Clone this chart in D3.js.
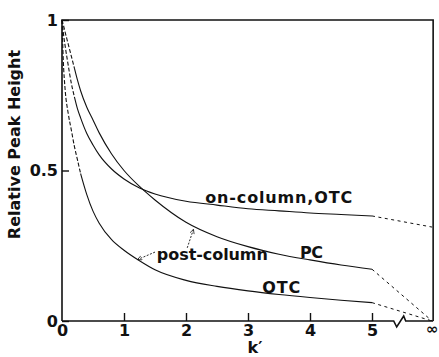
<!DOCTYPE html>
<html><head><meta charset="utf-8">
<script src="https://cdn.jsdelivr.net/npm/d3@7"></script>
<style>html,body{margin:0;padding:0;background:#fff}svg{display:block}</style>
</head><body>
<svg id="c" width="439" height="357"></svg>
<script>
// ---- data ----
const kGrid = [0,0.02,0.05,0.1,0.15,0.2,0.25,0.3,0.4,0.5,0.6,0.8,1.0,1.25,1.5,2,2.5,3,3.5,4,4.5,5];
const onColumnOTC  = [1,0.96,0.915,0.85,0.79,0.745,0.705,0.675,0.623,0.585,0.552,0.505,0.472,0.442,0.422,0.398,0.385,0.373,0.366,0.359,0.354,0.349];
const postColumnPC = [1,0.985,0.96,0.92,0.88,0.84,0.80,0.765,0.71,0.668,0.625,0.555,0.5,0.447,0.402,0.328,0.28,0.247,0.222,0.203,0.186,0.172];
const postColumnOTC= [1,0.87,0.77,0.69,0.635,0.58,0.535,0.49,0.42,0.365,0.325,0.27,0.235,0.2,0.17,0.135,0.115,0.1,0.088,0.078,0.069,0.061];
const infinityValues = [0.312, 0, 0];           // value at k' = infinity
const dashedBelowK   = [0.2, 0.2, 0.3];         // early part drawn dashed
const seriesLabels   = ["on-column,OTC", "PC", "OTC"];
const xTickValues = [0,1,2,3,4,5];
const xTickLabels = ["0","1","2","3","4","5"];
const yTickValues = [0,0.5,1];
const yTickLabels = ["0","0.5","1"];
const infinityLabel = "\u221E";
const xTitle = "k\u2032";
const yTitle = "Relative Peak Height";
const annotationText = "post-column";

// ---- layout ----
const svg = d3.select("#c");
const FONT = "'DejaVu Sans', sans-serif";
const x = d3.scaleLinear().domain([0,5]).range([62,372]);
const y = d3.scaleLinear().domain([0,1]).range([321,20]);
const kInfSlot = 5.97, kBreak = 5.35;
const xk = k => isFinite(k) ? x(k) : x(kInfSlot);
const ink = "#111";

const series = [onColumnOTC, postColumnPC, postColumnOTC];
const lineGen = d3.line().x(d => xk(d[0])).y(d => y(d[1])).curve(d3.curveMonotoneX);

series.forEach((vals, i) => {
  const pts = kGrid.map((k, j) => [k, vals[j]]);
  const dashed = pts.filter(p => p[0] <= dashedBelowK[i] + 1e-9);
  const solid  = pts.filter(p => p[0] >= dashedBelowK[i] - 1e-9);
  svg.append("path").attr("d", lineGen(dashed)).attr("fill","none")
    .attr("stroke", ink).attr("stroke-width", 1.1).attr("stroke-dasharray","4,2");
  svg.append("path").attr("d", lineGen(solid)).attr("fill","none")
    .attr("stroke", ink).attr("stroke-width", 1.1);
  // extrapolation to infinity
  const last = pts[pts.length-1];
  svg.append("path").attr("d", d3.line().x(d=>xk(d[0])).y(d=>y(d[1]))([last, [Infinity, infinityValues[i]]]))
    .attr("fill","none").attr("stroke", ink).attr("stroke-width", 1).attr("stroke-dasharray","3,3.5");
});

// ---- frame ----
const y0 = y(0), xr = x(kInfSlot) + 1, xb = x(kBreak);
svg.append("path")
  .attr("d", d3.line()([[x(0), y0],[xb, y0],[xb+3, y0+6],[xb+10, y0-5],[xb+12, y0],[xr, y0]]))
  .attr("fill","none").attr("stroke", ink).attr("stroke-width", 1.6);
svg.append("path")
  .attr("d", d3.line()([[x(0), y0],[x(0), y(1)],[xr, y(1)],[xr, y0]]))
  .attr("fill","none").attr("stroke", ink).attr("stroke-width", 1.6);

// ---- axes ----
const xAxis = d3.axisBottom(x).tickValues(xTickValues)
  .tickFormat((d,i) => xTickLabels[i]).tickSize(-8).tickPadding(4);
const gx = svg.append("g").attr("transform", `translate(0,${y0})`).call(xAxis);
gx.select(".domain").remove();
gx.selectAll(".tick line").attr("stroke", ink).attr("stroke-width", 1.4)
  .filter(d => d === 0).remove();
gx.selectAll("text").attr("font-family", FONT).attr("font-weight","bold")
  .attr("font-size", 16).attr("fill", ink);
svg.append("text").attr("x", x(kInfSlot)).attr("y", y0 + 13)
  .attr("text-anchor","middle").attr("font-family", FONT).attr("font-weight","bold")
  .attr("font-size", 15).attr("fill", ink).text(infinityLabel);

const yAxis = d3.axisLeft(y).tickValues(yTickValues)
  .tickFormat((d,i) => yTickLabels[i]).tickSize(-7).tickPadding(4);
const gy = svg.append("g").attr("transform", `translate(${x(0)},0)`).call(yAxis);
gy.select(".domain").remove();
gy.selectAll(".tick line").attr("stroke", ink).attr("stroke-width", 1.4);
gy.selectAll("text").attr("font-family", FONT).attr("font-weight","bold")
  .attr("font-size", 16).attr("fill", ink);

// titles
svg.append("text").attr("transform", `translate(20,${(y(1)+y(0))/2 - 26}) rotate(-90)`)
  .attr("text-anchor","middle").attr("font-family", FONT).attr("font-weight","bold")
  .attr("font-size", 16).attr("fill", ink).text(yTitle);
svg.append("text").attr("x", 255).attr("y", 353)
  .attr("text-anchor","middle").attr("font-family", FONT).attr("font-weight","bold")
  .attr("font-size", 16).attr("fill", ink).text(xTitle);

// ---- curve labels (data coordinates) ----
const labelPos = [[2.31, 0.392, 147], [3.84, 0.209, 23], [3.23, 0.093, 38]];
labelPos.forEach((p, i) => {
  svg.append("text").attr("x", x(p[0])).attr("y", y(p[1]))
    .attr("font-family", FONT).attr("font-weight","bold").attr("font-size", 16)
    .attr("fill", ink).attr("textLength", p[2]).attr("lengthAdjust","spacing")
    .text(seriesLabels[i]);
});
svg.append("text").attr("x", x(1.53)).attr("y", y(0.203))
  .attr("font-family", FONT).attr("font-weight","bold").attr("font-size", 16)
  .attr("fill", ink).attr("textLength", 111).attr("lengthAdjust","spacing")
  .text(annotationText);

// arrows from "post-column"
const interp = (vals, k) => {
  const i = d3.bisectRight(kGrid, k) - 1;
  const t = (k - kGrid[i]) / (kGrid[i+1] - kGrid[i]);
  return vals[i] + t * (vals[i+1] - vals[i]);
};
svg.append("defs").append("marker").attr("id","ah").attr("viewBox","0 0 10 10")
  .attr("refX", 9).attr("refY", 5).attr("markerWidth", 6).attr("markerHeight", 6)
  .attr("orient","auto").append("path").attr("d","M1,1 L9,5 L1,9")
  .attr("fill","none").attr("stroke", ink).attr("stroke-width", 1.3);
const arrows = [
  [[1.5, 0.229], [1.22, interp(postColumnOTC, 1.22)]],
  [[2.02, 0.243], [2.12, interp(postColumnPC, 2.12) - 0.012]]
];
arrows.forEach(a => {
  svg.append("line").attr("x1", x(a[0][0])).attr("y1", y(a[0][1]))
    .attr("x2", x(a[1][0])).attr("y2", y(a[1][1]))
    .attr("stroke", ink).attr("stroke-width", 0.9).attr("stroke-dasharray","2,1.5")
    .attr("marker-end","url(#ah)");
});
</script>
</body></html>
